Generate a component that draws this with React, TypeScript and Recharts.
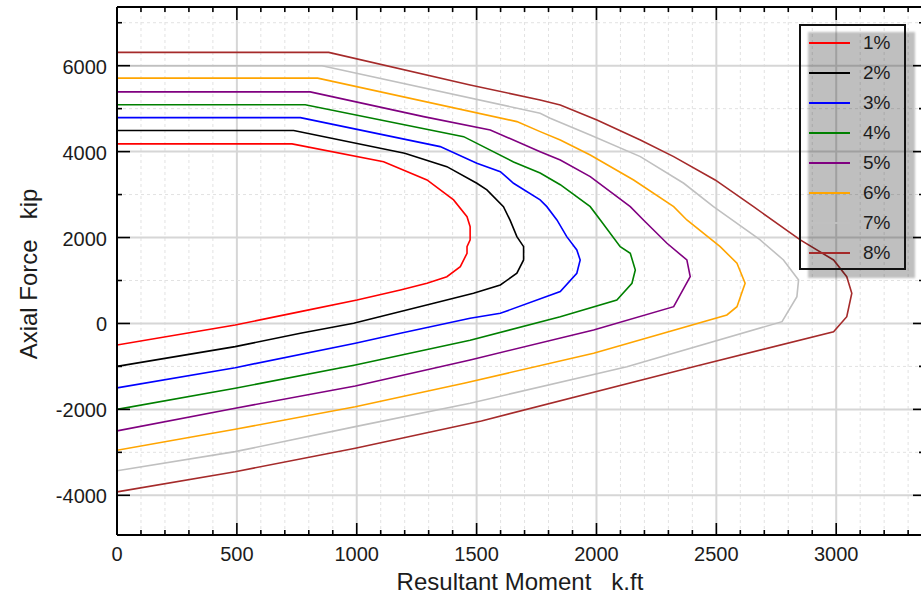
import { LineChart, Line, XAxis, YAxis, ReferenceLine, Legend, Label } from 'recharts'

const FONT = "'Liberation Sans', Arial, sans-serif"
const INK = '#1c1c1c'

// moment axis: minor ticks every 100, labelled every 500
const MOMENT_TICKS = Array.from({ length: 34 }, (_, i) => i * 100)
const MOMENT_LABELS = [0, 500, 1000, 1500, 2000, 2500, 3000]
// axial axis: minor ticks every 1000, labelled every 2000
const AXIAL_TICKS = [-4000, -3000, -2000, -1000, 0, 1000, 2000, 3000, 4000, 5000, 6000, 7000]
const AXIAL_LABELS = [-4000, -2000, 0, 2000, 4000, 6000]

// [moment k.ft, axial kip] around each interaction curve, top to bottom
const RHO_1: [number, number][] = [
  [0, 4180], [730, 4180], [1112, 3766], [1293, 3341], [1404, 2875], [1460, 2486],
  [1473, 2253], [1473, 1944], [1460, 1788], [1460, 1634], [1432, 1322], [1376, 1089],
  [1293, 936], [1182, 780], [1001, 547], [765, 275], [493, -35], [0, -500],
]
const RHO_2: [number, number][] = [
  [0, 4490], [737, 4490], [1200, 3962], [1376, 3650], [1501, 3263], [1543, 3108],
  [1612, 2719], [1640, 2400], [1668, 2020], [1696, 1788], [1696, 1478], [1668, 1169],
  [1599, 896], [1487, 703], [1321, 470], [987, 5], [765, -228], [493, -540], [0, -1000],
]
const RHO_3: [number, number][] = [
  [0, 4790], [765, 4790], [1348, 4116], [1501, 3729], [1599, 3534], [1654, 3263],
  [1765, 2875], [1793, 2719], [1835, 2409], [1876, 2020], [1918, 1711], [1932, 1478],
  [1918, 1168], [1849, 741], [1599, 237], [1473, 121], [1182, -228], [994, -461],
  [493, -1029], [0, -1500],
]
const RHO_4: [number, number][] = [
  [0, 5090], [785, 5090], [1446, 4348], [1654, 3760], [1765, 3500], [1849, 3230],
  [1974, 2719], [2016, 2409], [2099, 1788], [2141, 1634], [2162, 1245], [2148, 936],
  [2085, 547], [1849, 158], [1473, -390], [994, -966], [493, -1508], [0, -2000],
]
const RHO_5: [number, number][] = [
  [0, 5390], [806, 5390], [1279, 4814], [1557, 4504], [1765, 3999], [1849, 3806],
  [1974, 3417], [2141, 2719], [2196, 2409], [2294, 1867], [2377, 1478], [2391, 1089],
  [2322, 391], [1988, -151], [1473, -850], [994, -1455], [493, -1974], [0, -2500],
]
const RHO_6: [number, number][] = [
  [0, 5710], [837, 5710], [1668, 4698], [1765, 4465], [1849, 4272], [1974, 3922],
  [2155, 3340], [2322, 2719], [2377, 2409], [2516, 1788], [2586, 1401], [2620, 936],
  [2586, 391], [2544, 198], [1988, -694], [1452, -1385], [994, -1937], [493, -2463],
  [0, -2950],
]
const RHO_7: [number, number][] = [
  [0, 6000], [855, 6000], [1765, 4893], [1807, 4777], [1974, 4388], [2183, 3883],
  [2364, 3263], [2488, 2719], [2683, 1944], [2780, 1478], [2843, 1013], [2836, 624],
  [2774, 42], [2127, -1006], [1473, -1858], [994, -2402], [493, -2984], [0, -3430],
]
const RHO_8: [number, number][] = [
  [0, 6310], [883, 6310], [1473, 5552], [1765, 5202], [1849, 5086], [2002, 4737],
  [2183, 4272], [2322, 3883], [2495, 3340], [2655, 2719], [2850, 1944], [2989, 1478],
  [3044, 1089], [3065, 703], [3044, 158], [2989, -191], [2405, -1006], [1520, -2270],
  [994, -2905], [493, -3450], [0, -3920],
]

const SERIES = [
  { name: '1%', color: '#ff0000', points: RHO_1 },
  { name: '2%', color: '#000000', points: RHO_2 },
  { name: '3%', color: '#0000ff', points: RHO_3 },
  { name: '4%', color: '#008000', points: RHO_4 },
  { name: '5%', color: '#800080', points: RHO_5 },
  { name: '6%', color: '#ffa500', points: RHO_6 },
  { name: '7%', color: '#c0c0c0', points: RHO_7 },
  { name: '8%', color: '#a52a2a', points: RHO_8 },
]

const X_DOMAIN = [0, 3362]
const Y_DOMAIN = [-4924, 7366]

function BottomTick(props: any) {
  const { x, y, payload } = props
  const major = MOMENT_LABELS.includes(payload.value)
  return (
    <g>
      <line x1={x} x2={x} y1={y} y2={y - (major ? 12 : 5)} stroke="#000" strokeWidth={1.6} />
      {major && (
        <text x={x} y={y + 26} textAnchor="middle" fontSize={20} fill={INK} fontFamily={FONT}>
          {payload.value}
        </text>
      )}
    </g>
  )
}

function TopTick(props: any) {
  const { x, y, payload } = props
  const major = MOMENT_LABELS.includes(payload.value)
  return <line x1={x} x2={x} y1={y} y2={y + (major ? 13 : 5)} stroke="#000" strokeWidth={1.6} />
}

function LeftTick(props: any) {
  const { x, y, payload } = props
  const major = AXIAL_LABELS.includes(payload.value)
  return (
    <g>
      <line x1={x} x2={x + (major ? 13 : 5)} y1={y} y2={y} stroke="#000" strokeWidth={1.6} />
      {major && (
        <text x={x - 10} y={y + 8} textAnchor="end" fontSize={20} fill={INK} fontFamily={FONT}>
          {payload.value}
        </text>
      )}
    </g>
  )
}

function RightTick(props: any) {
  const { x, y, payload } = props
  const major = AXIAL_LABELS.includes(payload.value)
  return <line x1={x} x2={x - (major ? 10 : 4)} y1={y} y2={y} stroke="#000" strokeWidth={1.6} />
}

function LegendBox(props: any) {
  const items = props.payload || []
  return (
    <div style={{ position: 'relative', width: 117, height: 256, fontFamily: FONT }}>
      <div
        style={{
          position: 'absolute', left: 9, top: 8, width: 107, height: 246,
          background: 'rgba(0,0,0,0.25)', filter: 'blur(1px)',
        }}
      />
      <div
        style={{
          position: 'absolute', left: 0, top: 0, width: 107, height: 246,
          border: '2px solid #111', boxSizing: 'border-box',
        }}
      >
        {items.map((it: any, i: number) => {
          const cy = 17 + i * 30
          return (
            <div key={it.value}>
              <div style={{ position: 'absolute', left: 8, top: cy - 1, width: 41, height: 2, background: it.color }} />
              <div
                style={{
                  position: 'absolute', left: 62, top: cy - 11, fontSize: 19, lineHeight: '22px', color: INK,
                }}
              >
                {it.value}
              </div>
            </div>
          )
        })}
      </div>
    </div>
  )
}

export default function App() {
  const gridMajor = { stroke: '#d6d6d6', strokeWidth: 2 }
  const gridMinor = { stroke: '#e2e2e2', strokeWidth: 1, strokeDasharray: '3 3' }

  return (
    <div style={{ position: 'absolute', left: 0, top: 0, width: 921, height: 595, overflow: 'hidden', background: '#fff' }}>
      <LineChart
        width={924}
        height={595}
        margin={{ top: 0, right: 0, bottom: 0, left: 0 }}
        style={{ fontFamily: FONT }}
      >
        <XAxis
          dataKey="m"
          type="number"
          domain={X_DOMAIN}
          allowDataOverflow
          ticks={MOMENT_TICKS}
          interval={0}
          tickLine={false}
          tickSize={0}
          tickMargin={0}
          height={60}
          axisLine={{ stroke: '#000', strokeWidth: 2 }}
          tick={(p: any) => <BottomTick {...p} />}
        >
          <Label
            value={'Resultant Moment\u00a0\u00a0\u00a0k.ft'}
            position="insideBottom"
            offset={5}
            fontSize={24}
            fill={INK}
            fontFamily={FONT}
          />
        </XAxis>
        <XAxis
          xAxisId="top"
          orientation="top"
          dataKey="m"
          type="number"
          domain={X_DOMAIN}
          allowDataOverflow
          ticks={MOMENT_TICKS}
          interval={0}
          tickLine={false}
          tickSize={0}
          tickMargin={0}
          height={7}
          axisLine={{ stroke: '#000', strokeWidth: 2 }}
          tick={(p: any) => <TopTick {...p} />}
        />
        <YAxis
          type="number"
          domain={Y_DOMAIN}
          allowDataOverflow
          ticks={AXIAL_TICKS}
          interval={0}
          tickLine={false}
          tickSize={0}
          tickMargin={0}
          width={117}
          axisLine={{ stroke: '#000', strokeWidth: 2 }}
          tick={(p: any) => <LeftTick {...p} />}
        >
          <Label
            value={'Axial Force\u00a0\u00a0\u00a0kip'}
            position="center"
            angle={-90}
            dx={-30}
            dy={3}
            fontSize={24}
            fill={INK}
            fontFamily={FONT}
          />
        </YAxis>
        <YAxis
          yAxisId="right"
          orientation="right"
          type="number"
          domain={Y_DOMAIN}
          allowDataOverflow
          ticks={AXIAL_TICKS}
          interval={0}
          tickLine={false}
          tickSize={0}
          tickMargin={0}
          width={1}
          axisLine={{ stroke: '#000', strokeWidth: 2 }}
          tick={(p: any) => <RightTick {...p} />}
        />

        {MOMENT_TICKS.filter((v) => v > 0).map((v) => (
          <ReferenceLine key={`vx${v}`} x={v} {...(MOMENT_LABELS.includes(v) ? gridMajor : gridMinor)} />
        ))}
        {AXIAL_TICKS.map((v) => (
          <ReferenceLine key={`hy${v}`} y={v} {...(AXIAL_LABELS.includes(v) ? gridMajor : gridMinor)} />
        ))}

        {SERIES.map((s) => (
          <Line
            key={s.name}
            name={s.name}
            data={s.points.map(([m, p]) => ({ m, p }))}
            dataKey="p"
            type="linear"
            stroke={s.color}
            strokeWidth={1.6}
            dot={false}
            activeDot={false}
            legendType="line"
            isAnimationActive={false}
          />
        ))}

        <Legend
          layout="vertical"
          align="center"
          verticalAlign="middle"
          content={(p: any) => <LegendBox {...p} />}
          wrapperStyle={{ left: 799, top: 24, width: 'auto' }}
        />
      </LineChart>
    </div>
  )
}
